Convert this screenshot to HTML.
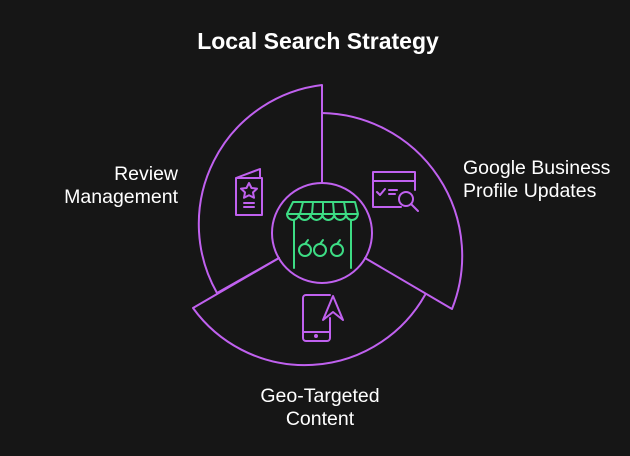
<!DOCTYPE html>
<html><head><meta charset="utf-8"><style>
html,body{margin:0;padding:0;background:#161616;}
body{width:630px;height:456px;overflow:hidden;position:relative;font-family:"Liberation Sans",Arial,sans-serif;color:#fff;}
.t{position:absolute;font-size:19.5px;line-height:23px;}
</style></head><body>
<div class="t" style="left:0;width:636px;top:30px;text-align:center;font-weight:bold;font-size:23px;">Local Search Strategy</div>
<div class="t" style="right:452px;top:163px;text-align:right;">Review<br>Management</div>
<div class="t" style="left:463px;top:157px;">Google Business<br>Profile Updates</div>
<div class="t" style="left:220px;width:200px;top:385px;text-align:center;">Geo-Targeted<br>Content</div>
<svg width="630" height="456" style="position:absolute;left:0;top:0" fill="none" stroke-linecap="round" stroke-linejoin="round">
<g stroke="#c061ef" stroke-width="2">
<path d="M322,183 L322,85 A140,140 0 0 0 217,293 L279,258"/>
<path d="M322,183 L322,113 A143,143 0 0 1 452,309 L365,258"/>
<path d="M279,258 L193,308 A138,138 0 0 0 425,295"/>
<circle cx="322" cy="233" r="50"/>
<path d="M236,178 L236,215 L262,215 L262,178 Z M236,178 L260,169 L260,178"/>
<path d="M249,183 l2.5,5 5.5,.6 -4,3.8 1,5.4 -5,-2.6 -5,2.6 1,-5.4 -4,-3.8 5.5,-.6 Z"/>
<path d="M244,203 h10 M244,207 h10"/>
<path d="M401,207 H373 V172 H415 V190 M373,181 H415"/>
<path d="M377,192 l3,3 5,-6 M389,190 h8 M389,194 h6"/>
<circle cx="406" cy="199" r="7"/><path d="M411,204 l7,7"/>
<path d="M330,295 H306 a3,3 0 0 0 -3,3 V338 a3,3 0 0 0 3,3 H327 a3,3 0 0 0 3,-3 V318 M303,332 H330"/>
<circle cx="316" cy="336" r="1" fill="#c061ef"/>
<path d="M333,296 L323,320 L333,312 L343,320 Z"/>
</g>
<g stroke="#3ddc84" stroke-width="2">
<path d="M293,202 H355 L358,214 H287 Z M303,202 L300,214 M313,202 L312,214 M323,202 V214 M333,202 L334,214 M344,202 L346,214"/>
<path d="M287,214 a5.9,6 0 0 0 11.8,0 a5.9,6 0 0 0 11.8,0 a5.9,6 0 0 0 11.8,0 a5.9,6 0 0 0 11.8,0 a5.9,6 0 0 0 11.8,0 a5.9,6 0 0 0 11.8,0"/>
<path d="M294,220 V268 M351,220 V268"/>
<circle cx="305" cy="250" r="6"/><circle cx="320" cy="250" r="6"/><circle cx="337" cy="250" r="6"/>
<path d="M305,244 l3,-4 M320,244 l3,-4 M337,244 l3,-4"/>
</g>
</svg>
</body></html>
